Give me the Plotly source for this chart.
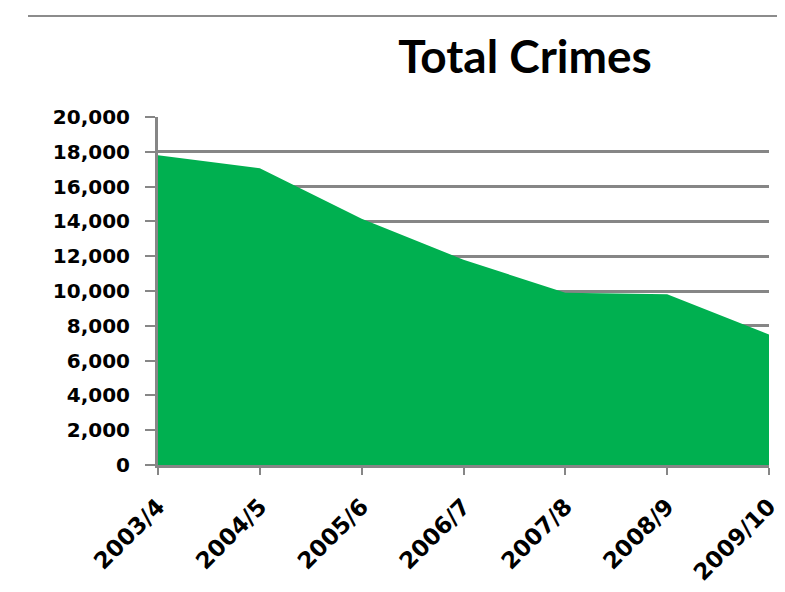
import plotly.graph_objects as go

categories = ["2003/4", "2004/5", "2005/6", "2006/7", "2007/8", "2008/9", "2009/10"]
total_crimes = [17800, 17050, 14150, 11800, 9900, 9820, 7500]
y_ticks = [0, 2000, 4000, 6000, 8000, 10000, 12000, 14000, 16000, 18000, 20000]
y_tick_labels = ["0", "2,000", "4,000", "6,000", "8,000", "10,000", "12,000",
                 "14,000", "16,000", "18,000", "20,000"]

GRAY = "#868686"
W, H = 777, 584
L, R, T, B = 150, 16, 109, 127
PW, PH = W - L - R, H - T - B

fig = go.Figure()
fig.add_trace(go.Scatter(
    x=categories, y=total_crimes, mode="none", fill="tozeroy",
    fillcolor="#00B050", hoverinfo="x+y", showlegend=False,
))

fig.update_layout(
    width=W, height=H,
    margin=dict(l=L, r=R, t=T, b=B, autoexpand=False),
    paper_bgcolor="white", plot_bgcolor="white",
    title=dict(text="<b>Total Crimes</b>", x=517 / W, xanchor="center",
               y=1 - 49 / H, yanchor="middle",
               font=dict(family="Lato", size=46, color="black")),
    shapes=[dict(type="line", xref="paper", yref="paper",
                 x0=(20 - L) / PW, x1=1.03, y0=1 + (T - 8) / PH, y1=1 + (T - 8) / PH,
                 line=dict(color="#8c8c8c", width=2))],
)

fig.update_xaxes(
    type="category", range=[0, 6], showgrid=False, automargin=False,
    showline=True, linecolor=GRAY, linewidth=3,
    ticks="outside", ticklen=7, tickwidth=2, tickcolor=GRAY,
    tickangle=-45, ticklabelstandoff=9,
    tickfont=dict(family="DejaVu Sans", size=23, color="black", weight="bold"),
)
fig.update_yaxes(
    range=[0, 20000], tickvals=y_ticks, ticktext=y_tick_labels, automargin=False,
    showgrid=True, gridcolor=GRAY, gridwidth=3,
    showline=True, linecolor=GRAY, linewidth=3, zeroline=False,
    ticks="outside", ticklen=10, tickwidth=2, tickcolor=GRAY,
    ticklabelstandoff=11,
    tickfont=dict(family="DejaVu Sans", size=20, color="black", weight="bold"),
)

fig.write_html("out.html")
